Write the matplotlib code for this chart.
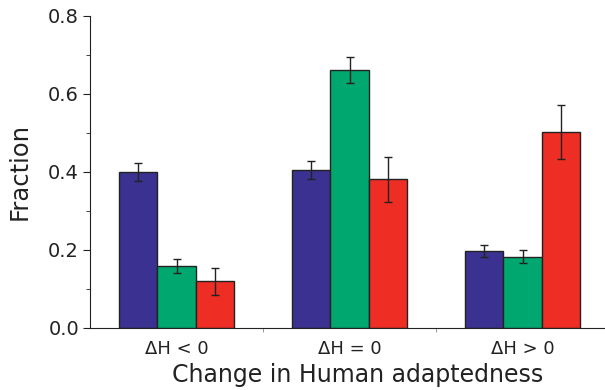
import numpy as np
import matplotlib
matplotlib.use("Agg")
import matplotlib.pyplot as plt
from matplotlib.ticker import MultipleLocator, FixedLocator

categories = ["ΔH < 0", "ΔH = 0", "ΔH > 0"]
blue_vals = [0.400, 0.406, 0.197]
blue_err = [0.022, 0.023, 0.016]
green_vals = [0.159, 0.661, 0.183]
green_err = [0.017, 0.033, 0.017]
red_vals = [0.120, 0.381, 0.502]
red_err = [0.035, 0.058, 0.069]

colors = ["#3a3190", "#00a870", "#ee2e24"]

fig = plt.figure(figsize=(6.05, 3.9), dpi=100)
ax = fig.add_axes([0.149, 0.159, 0.851, 0.8])

x = np.arange(len(categories))
w = 0.222
series = [(blue_vals, blue_err), (green_vals, green_err), (red_vals, red_err)]
for i, (vals, err) in enumerate(series):
    ax.bar(x + (i - 1) * w, vals, w, color=colors[i], edgecolor="#222222",
           linewidth=1.0, yerr=err, capsize=3,
           error_kw=dict(ecolor="#222222", elinewidth=1.0, capthick=1.0))

ax.set_xlim(-0.5, 2.477)
ax.set_ylim(0, 0.8)
ax.spines["top"].set_visible(False)
ax.spines["right"].set_visible(False)
ax.spines["left"].set_color("#222222")
ax.spines["bottom"].set_color("#222222")

ax.set_xticks(x)
ax.set_xticklabels(categories, fontsize=13, color="#222222")
ax.xaxis.set_minor_locator(FixedLocator([0.5, 1.5]))
ax.tick_params(axis="x", which="major", length=0, pad=9)
ax.tick_params(axis="x", which="minor", length=3, color="#888888")

ax.yaxis.set_major_locator(MultipleLocator(0.2))
ax.yaxis.set_minor_locator(MultipleLocator(0.1))
ax.set_yticklabels([f"{v:.1f}" for v in ax.get_yticks()], fontsize=14, color="#222222")
ax.tick_params(axis="y", which="major", length=5, color="#222222", pad=3)
ax.tick_params(axis="y", which="minor", length=3, color="#222222")

ax.set_ylabel("Fraction", fontsize=17.5, color="#222222", labelpad=12)
ax.set_xlabel("Change in Human adaptedness", fontsize=17, color="#222222", labelpad=3)
ax.xaxis.label.set_x(0.52)

fig.savefig("out.png", dpi=100)
